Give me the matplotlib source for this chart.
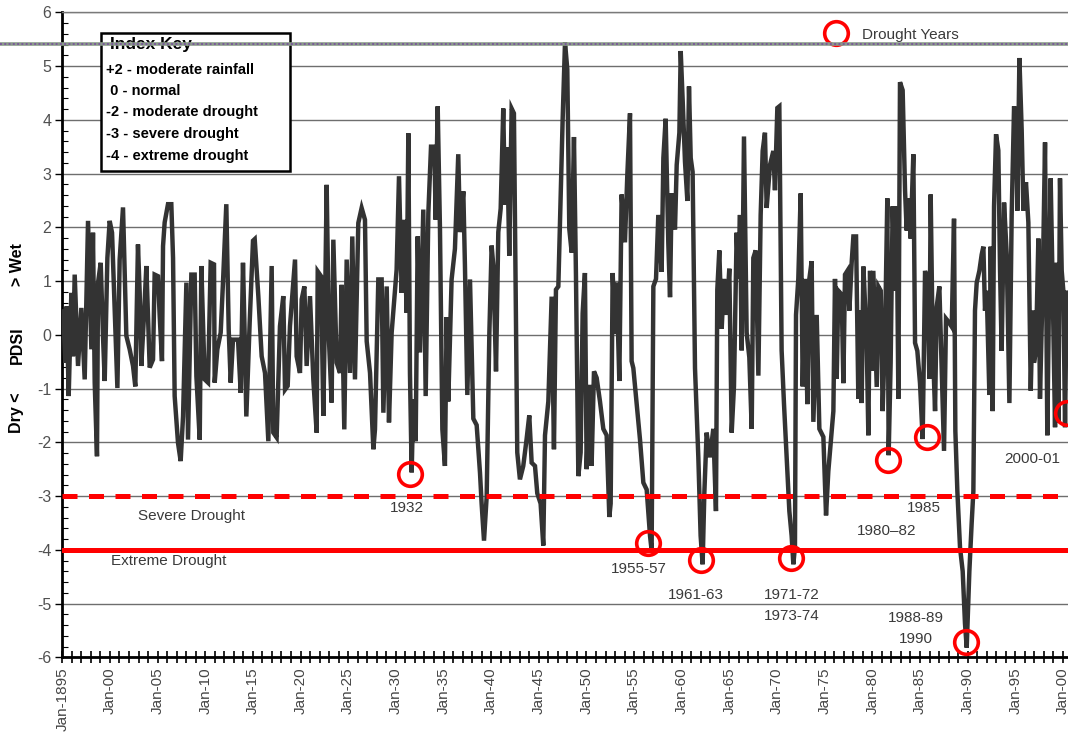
import matplotlib
matplotlib.use('Agg')
import matplotlib.pyplot as plt
from matplotlib.lines import Line2D
from matplotlib.patches import Rectangle
from matplotlib.ticker import MultipleLocator

plt.rcParams['font.family'] = ['Liberation Sans', 'DejaVu Sans']
plt.rcParams['axes.unicode_minus'] = False

# ---- data ----
pdsi_year = [
    1895.00, 1895.07, 1895.32, 1895.46, 1895.67, 1895.95, 1896.12, 1896.30, 1896.65, 1897.00,
    1897.35, 1897.70, 1898.05, 1898.22, 1898.40, 1898.64, 1898.75, 1899.03, 1899.27, 1899.45,
    1899.73, 1899.97, 1900.22, 1900.50, 1900.78, 1901.02, 1901.37, 1901.72, 1902.07, 1902.42,
    1902.66, 1902.94, 1903.12, 1903.29, 1903.57, 1903.82, 1904.17, 1904.52, 1904.69, 1905.04,
    1905.22, 1905.46, 1905.57, 1905.74, 1906.09, 1906.44, 1906.62, 1906.79, 1907.14, 1907.42,
    1907.67, 1908.02, 1908.19, 1908.54, 1908.89, 1909.07, 1909.42, 1909.59, 1909.94, 1910.29,
    1910.57, 1910.92, 1910.99, 1911.27, 1911.62, 1911.86, 1912.21, 1912.46, 1912.67, 1912.91,
    1913.44, 1913.72, 1913.96, 1914.14, 1914.31, 1914.66, 1915.01, 1915.19,
    1915.57, 1915.92, 1916.27, 1916.62, 1916.97, 1917.14, 1917.49, 1917.84, 1918.19, 1918.37,
    1918.65, 1918.89, 1919.42, 1919.59, 1919.94, 1920.12, 1920.40, 1920.64, 1920.99, 1921.34,
    1921.69, 1921.80, 1922.15, 1922.39, 1922.56, 1922.74, 1922.98, 1923.26, 1923.44, 1923.79,
    1924.14, 1924.31, 1924.59, 1924.84, 1925.19, 1925.43, 1925.71, 1926.06, 1926.41, 1926.76,
    1926.94, 1927.29, 1927.64, 1927.81, 1928.16, 1928.51, 1928.69, 1929.04, 1929.28, 1929.56,
    1930.08, 1930.33, 1930.61, 1930.89, 1931.13, 1931.31, 1931.48, 1931.66, 1931.83, 1932.08,
    1932.29, 1932.53, 1932.88, 1933.13, 1933.41, 1933.69, 1934.04, 1934.18, 1934.39, 1934.63,
    1934.88, 1935.15,
    1935.33, 1935.50, 1935.85, 1936.20, 1936.55, 1936.73, 1937.08, 1937.25, 1937.50, 1937.78,
    1938.13, 1938.48, 1938.83, 1939.00, 1939.25, 1939.53, 1939.81, 1940.05, 1940.23, 1940.51,
    1940.75, 1941.00, 1941.27, 1941.45, 1941.69, 1941.90, 1942.15, 1942.39, 1942.60, 1942.74,
    1943.02, 1943.37, 1943.72, 1944.00, 1944.25, 1944.60, 1944.84, 1945.19, 1945.47, 1945.65,
    1946.00, 1946.35, 1946.59, 1946.80, 1947.05, 1947.29, 1947.50, 1947.75, 1947.99, 1948.20,
    1948.45, 1948.69, 1948.90, 1949.15, 1949.39, 1949.60, 1949.84, 1950.02, 1950.30, 1950.54,
    1950.79, 1951.07, 1951.42, 1951.77, 1952.12, 1952.40, 1952.54, 1952.75, 1953.00, 1953.17,
    1953.45, 1953.69, 1954.04, 1954.29, 1954.57,
    1954.74, 1954.92, 1955.27, 1955.62, 1955.97, 1956.32, 1956.67, 1956.84, 1957.02, 1957.30,
    1957.54, 1957.89, 1958.07, 1958.31, 1958.59, 1958.77, 1958.94, 1959.29, 1959.47, 1959.75,
    1959.89, 1960.10, 1960.34, 1960.59, 1960.76, 1960.94, 1961.14, 1961.39, 1961.74, 1961.98,
    1962.19, 1962.37, 1962.61, 1962.96, 1963.31, 1963.59, 1963.73, 1963.94, 1964.19, 1964.43,
    1964.71, 1964.99, 1965.24, 1965.48, 1965.76, 1965.94, 1966.11, 1966.29, 1966.53, 1966.81,
    1967.09, 1967.34, 1967.51, 1967.76, 1968.04, 1968.28, 1968.49, 1968.73, 1968.91, 1969.26,
    1969.61, 1969.78, 1970.03, 1970.24, 1970.48, 1970.73, 1971.01, 1971.29, 1971.53, 1971.71,
    1971.88, 1971.99, 1972.23, 1972.48, 1972.69, 1972.93, 1973.18, 1973.39, 1973.63, 1973.81,
    1974.16, 1974.44,
    1974.86, 1975.14, 1975.38, 1975.56, 1975.91, 1976.08, 1976.26, 1976.43, 1976.78, 1976.96,
    1977.13, 1977.38, 1977.59, 1977.83, 1978.01, 1978.29, 1978.53, 1978.71, 1978.88, 1979.06,
    1979.41, 1979.58, 1979.76, 1979.93, 1980.10, 1980.46, 1980.63, 1980.88, 1981.08, 1981.33,
    1981.57, 1981.71, 1981.92, 1982.13, 1982.38, 1982.55, 1982.73, 1982.90, 1983.18, 1983.43,
    1983.60, 1983.78, 1984.02, 1984.30, 1984.48, 1984.72, 1985.00, 1985.28, 1985.53, 1985.77,
    1985.98, 1986.12, 1986.33, 1986.58, 1986.75, 1987.03, 1987.28, 1987.52, 1987.73, 1988.08,
    1988.33, 1988.57, 1988.71, 1988.92, 1989.20, 1989.48, 1989.72, 1989.90, 1990.18, 1990.42,
    1990.60, 1990.77, 1990.95, 1991.23, 1991.47, 1991.65, 1991.82, 1992.00, 1992.28, 1992.42,
    1992.63, 1992.77, 1992.98, 1993.22, 1993.40, 1993.57, 1993.82, 1994.10, 1994.38, 1994.62,
    1994.87, 1995.08, 1995.22, 1995.43, 1995.67, 1995.85, 1996.12, 1996.37, 1996.62, 1996.82,
    1996.96, 1997.17, 1997.42, 1997.59, 1997.87, 1998.12, 1998.36, 1998.57, 1998.71, 1998.92,
    1999.17, 1999.34, 1999.52, 1999.69, 1999.87, 2000.04, 2000.22, 2000.39, 2000.60,
]
pdsi_value = [
    0.20, 0.47, -0.52, 0.53, -1.14, 0.78, -0.40, 1.12, -0.58, 0.50,
    -0.83, 2.12, -0.27, 1.90, -0.89, -2.26, 0.97, 1.34, -0.02, -0.86,
    1.43, 2.12, 1.90, 0.47, -0.99, 1.40, 2.37, -0.02, -0.27, -0.58,
    -0.96, 1.68, 0.78, -0.58, 0.35, 1.28, -0.61, -0.46, 1.12, 1.09,
    0.35, -0.49, 1.65, 2.09, 2.43, 2.43, 1.43, -1.14, -2.01, -2.35,
    -1.52, 0.97, -1.95, 1.12, 1.12, -0.77, -1.95, 1.28, -0.83, -0.89,
    1.34, 1.31, -0.89, -0.27, 0.04, 0.97, 2.43, 0.10, -0.89, -0.09,
    -0.09, -1.08, 1.34, -0.02, -1.52, 0.22, 1.75, 1.78,
    0.72, -0.40, -0.71, -1.98, 1.28, -1.82, -1.91, 0.16, 0.72, -1.02,
    -0.95, 0.16, 1.40, -0.40, -0.71, 0.66, 0.90, -0.58, 0.72, -0.83,
    -1.82, 1.18, 1.09, -1.51, 0.41, 2.79, -0.09, -1.26, 1.77, -0.52,
    -0.71, 0.93, -1.76, 1.40, -0.71, 1.83, -0.83, 2.08, 2.36, 2.14,
    -0.12, -0.71, -2.13, -1.76, 1.03, 1.03, -1.45, 0.90, -1.63, 0.04,
    1.21, 2.95, 0.78, 2.14, 0.41, 3.75, -0.71, -2.56, -1.20, -1.98,
    1.83, -0.33, 2.33, -1.14, 2.27, 3.50, 3.50, 2.14, 4.25, 1.96,
    -1.76, -2.44,
    0.33, -1.24, 1.03, 1.60, 3.36, 1.91, 2.67, 1.28, -1.12, 1.03,
    -1.56, -1.68, -2.57, -3.14, -3.83, -3.01, 0.02, 1.66, 1.28, -0.68,
    1.91, 2.35, 4.21, 2.42, 3.49, 1.47, 4.21, 4.12, 0.21, -2.19,
    -2.69, -2.44, -1.94, -1.50, -2.38, -2.44, -2.95, -3.14, -3.92, -1.87,
    -1.24, 0.71, -2.13, 0.84, 0.90, 2.54, 3.99, 5.44, 4.94, 1.97,
    1.53, 3.68, 1.09, -2.63, -2.19, 0.40, 1.15, -2.50, -0.93, -2.44,
    -0.68, -0.80, -1.24, -1.75, -1.87, -3.39, -3.14, 1.15, 0.02, 0.97,
    -0.86, 2.61, 1.72, 2.98, 4.12,
    -0.49, -0.62, -1.29, -1.95, -2.75, -2.88, -3.74, -4.01, 0.90, 1.04,
    2.23, 1.17, 3.29, 4.02, 1.70, 0.70, 2.63, 1.96, 3.16, 3.76,
    5.28, 4.35, 3.22, 2.49, 4.62, 3.29, 3.03, -0.62, -2.28, -3.74,
    -4.27, -2.95, -1.82, -2.28, -1.75, -3.28, 0.84, 1.57, 0.11, 1.04,
    0.37, 1.23, -1.82, -0.96, 1.90, 1.04, 2.23, -0.29, 3.69, 0.04,
    -0.42, -1.75, 1.43, 1.57, -0.76, 2.23, 3.42, 3.76, 2.36, 3.16,
    3.42, 2.69, 4.22, 4.25, -0.29, -1.29, -2.28, -3.28, -3.74, -4.27,
    -3.94, 0.37, 1.04, 2.63, -0.96, 1.04, -1.29, 1.04, 1.37, -1.62,
    0.37, -1.75,
    -1.90, -3.36, -2.54, -2.16, -1.42, 1.04, -0.82, 0.82, 0.75, -0.90,
    1.12, 1.19, 0.45, 1.34, 1.83, 1.83, -1.19, 0.45, -1.27, 1.27,
    -0.15, -1.87, 1.19, -0.67, 1.19, -0.97, 0.90, 0.82, -1.42, 0.00,
    2.54, -2.24, -0.52, 2.39, 0.82, 2.39, -1.19, 4.70, 4.55, 2.69,
    1.94, 2.54, 1.79, 3.36, -0.15, -0.30, -0.90, -1.94, 1.19, 0.97,
    -0.82, 2.61, -0.15, -1.42, 0.52, 0.90, -0.67, -2.16, 0.30, 0.22,
    0.15, 2.16, -1.79, -2.91, -3.96, -4.40, -5.37, -5.82, -4.40, -3.51,
    -2.91, 0.45, 0.97, 1.19, 1.49, 1.64, 0.45, 0.82, -1.12, 1.64,
    -1.42, 2.39, 3.73, 3.43, 1.19, -0.30, 2.46, 1.49, -1.27, 2.24,
    4.25, 3.96, 2.31, 5.15, 3.81, 2.31, 2.84, 2.09, -1.04, 0.45,
    -0.52, -0.30, 1.79, -1.19, 0.90, 3.58, -1.87, 1.19, 2.91, 0.90,
    -1.72, 1.34, -1.64, 2.91, 1.19, 0.82, -1.72, 0.82, 0.40,
]

drought_year = [1931.5, 1956.5, 1962.0, 1971.5, 1981.6, 1985.7, 1989.8, 2000.4]
drought_value = [-2.59, -3.87, -4.19, -4.15, -2.33, -1.90, -5.71, -1.46]

severe_level = -3
extreme_level = -4

tick_years = list(range(1895, 2001, 5))
tick_labels = ['Jan-1895'] + ['Jan-%02d' % (y % 100) for y in tick_years[1:]]

index_key = ['+2 - moderate rainfall', ' 0 - normal', '-2 - moderate drought',
             '-3 - severe drought', '-4 - extreme drought']

# ---- figure ----
W, H = 1068, 742
fig = plt.figure(figsize=(W / 100, H / 100), dpi=100)
fig.patch.set_facecolor('white')
left_px, right_px, top_px, bot_px = 62.3, 1068, 12.3, 657.3
ax = fig.add_axes([left_px / W, 1 - bot_px / H, (right_px - left_px) / W, (bot_px - top_px) / H])

x0 = 1895.0
x1 = 1895.0 + (right_px - left_px) / 9.53
ax.set_xlim(x0, x1)
ax.set_ylim(-6, 6)

ax.set_yticks(range(-6, 7))
ax.yaxis.set_minor_locator(MultipleLocator(0.2))
ax.grid(axis='y', which='major', color='#6e6e6e', lw=1.0, zorder=1)
ax.tick_params(axis='y', which='major', direction='out', length=5, width=1, pad=3,
               labelsize=11.5, labelcolor='#505050', color='black')
ax.tick_params(axis='y', which='minor', direction='in', length=4, width=0.8, color='black')

ax.set_xticks(tick_years)
ax.set_xticklabels(tick_labels, rotation=90)
ax.xaxis.set_minor_locator(MultipleLocator(1))
ax.tick_params(axis='x', which='both', direction='inout', length=9, width=1.2, color='black')
ax.tick_params(axis='x', which='major', labelsize=11, labelcolor='#454545', pad=3)

for s in ['left', 'bottom']:
    ax.spines[s].set_color('black')
    ax.spines[s].set_linewidth(2)
ax.spines['top'].set_color('#7a7a7a')
ax.spines['top'].set_linewidth(1)
ax.spines['right'].set_visible(False)

# data line
ax.plot(pdsi_year, pdsi_value, color='#333333', lw=3.2, solid_joinstyle='miter', zorder=3)

# threshold lines
ax.axhline(severe_level, color='#ff0000', lw=3.6, ls=(0, (3.0, 2.3)), zorder=4)
ax.axhline(extreme_level, color='#ff0000', lw=3.6, zorder=4)

# drought circles
ax.plot(drought_year, drought_value, ls='none', marker='o', ms=17, mfc='none',
        mec='#ff0000', mew=2.6, zorder=5)

# annotations
tc = '#3a3a3a'
fs = 11
ax.text(1908.58, -3.38, 'Severe Drought', ha='center', va='center', color=tc, fontsize=fs)
ax.text(1906.14, -4.21, 'Extreme Drought', ha='center', va='center', color=tc, fontsize=fs)
ax.text(1931.17, -3.22, '1932', ha='center', va='center', color=tc, fontsize=fs)
ax.text(1955.51, -4.35, '1955-57', ha='center', va='center', color=tc, fontsize=fs)
ax.text(1961.49, -4.84, '1961-63', ha='center', va='center', color=tc, fontsize=fs)
ax.text(1971.54, -4.84, '1971-72', ha='center', va='center', color=tc, fontsize=fs)
ax.text(1971.54, -5.23, '1973-74', ha='center', va='center', color=tc, fontsize=fs)
ax.text(1981.52, -3.65, '1980\u201382', ha='center', va='center', color=tc, fontsize=fs)
ax.text(1985.37, -3.22, '1985', ha='center', va='center', color=tc, fontsize=fs)
ax.text(1984.58, -5.27, '1988-89', ha='center', va='center', color=tc, fontsize=fs)
ax.text(1984.58, -5.66, '1990', ha='center', va='center', color=tc, fontsize=fs)
ax.text(1996.81, -2.31, '2000-01', ha='center', va='center', color=tc, fontsize=fs)

# legend: Drought Years
ax.plot([1976.19], [5.61], ls='none', marker='o', ms=17, mfc='none', mec='#ff0000',
        mew=2.6, clip_on=False, zorder=6)
ax.text(1978.95, 5.57, 'Drought Years', ha='left', va='center', color=tc, fontsize=fs)

# y-axis label pieces
for txt, py in [('> Wet', 265), ('PDSI', 345), ('Dry <', 413)]:
    fig.text(17 / W, 1 - py / H, txt, rotation=90, fontweight='bold', fontsize=11.5,
             ha='center', va='center', color='black')

# index key box
fig.add_artist(Rectangle((101 / W, 1 - 171 / H), 189 / W, 138 / H, transform=fig.transFigure,
                         facecolor='white', edgecolor='black', lw=1.8, zorder=10))
fig.text(110 / W, 1 - 45 / H, 'Index Key', fontweight='bold', fontsize=12.5,
         ha='left', va='center', color='black', zorder=11)
for i, line in enumerate(index_key):
    py = [70, 91, 112, 134, 156][i]
    fig.text(106 / W, 1 - py / H, line, fontweight='bold', fontsize=10.5,
             ha='left', va='center', color='black', zorder=11)

# dotted coloured rule across the top
yl = 1 - 44.3 / H
fig.add_artist(Line2D([0, 1], [yl, yl], transform=fig.transFigure, color='#8a9a8a',
                      lw=2.6, zorder=20))
fig.add_artist(Line2D([0, 1], [yl, yl], transform=fig.transFigure, color='#7a5a9a',
                      lw=1.4, ls=(0, (1, 1.2)), zorder=21))

fig.savefig('out.png', dpi=100)
